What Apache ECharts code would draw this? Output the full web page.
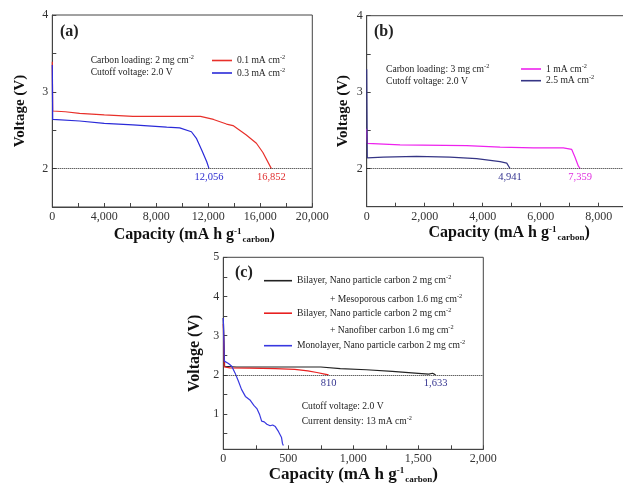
<!DOCTYPE html>
<html>
<head>
<meta charset="utf-8">
<script src="https://cdn.jsdelivr.net/npm/echarts@6/dist/echarts.min.js"></script>
<style>
html, body { margin: 0; padding: 0; background: #fff; }
#chart { width: 623px; height: 489px; }
</style>
</head>
<body>
<div id="chart"></div>
<script>
// (a) carbon loading 2 mg cm-2
const capA1 = [0, 30, 1000, 2100, 4000, 6200, 9300, 11400, 12400, 13400, 13900, 14900, 15700, 16200, 16852]
const voltA1 = [3.39, 2.75, 2.74, 2.72, 2.70, 2.68, 2.68, 2.68, 2.64, 2.58, 2.56, 2.44, 2.33, 2.21, 2.00]
const capA2 = [0, 30, 2100, 4000, 6200, 8800, 9800, 10700, 11100, 11500, 11880, 12056]
const voltA2 = [3.35, 2.64, 2.62, 2.59, 2.57, 2.54, 2.53, 2.48, 2.39, 2.24, 2.09, 2.00]

// (b) carbon loading 3 mg cm-2
const capB1 = [0, 20, 1150, 3450, 4600, 5750, 6780, 7070, 7180, 7300, 7359]
const voltB1 = [2.52, 2.33, 2.31, 2.30, 2.28, 2.27, 2.27, 2.25, 2.15, 2.03, 2.00]
const capB2 = [0, 20, 575, 1720, 2870, 3790, 4600, 4830, 4941]
const voltB2 = [3.30, 2.14, 2.15, 2.16, 2.15, 2.13, 2.09, 2.07, 2.00]

// (c) 13 mA cm-2
const capC1 = [0, 10, 100, 250, 500, 750, 900, 1100, 1300, 1500, 1580, 1610, 1633]
const voltC1 = [3.45, 2.22, 2.20, 2.20, 2.20, 2.20, 2.16, 2.13, 2.09, 2.04, 2.02, 2.04, 2.00]
const capC2 = [0, 8, 50, 200, 400, 550, 650, 720, 780, 810]
const voltC2 = [3.30, 2.20, 2.18, 2.17, 2.16, 2.14, 2.10, 2.06, 2.02, 2.00]
const capC3 = [0, 8, 20, 40, 65, 90, 115, 140, 170, 205, 235, 260, 280, 295, 305, 315, 335, 360, 380, 400, 415, 425, 440, 448, 455, 462]
const voltC3 = [3.45, 2.35, 2.30, 2.29, 2.22, 2.05, 1.85, 1.63, 1.45, 1.36, 1.22, 1.13, 0.98, 0.82, 0.86, 0.80, 0.74, 0.70, 0.72, 0.68, 0.66, 0.55, 0.57, 0.40, 0.25, 0.20]

const endLabels = ['16,852', '12,056', '7,359', '4,941', '1,633', '810']
const yTicksC = [0.5, 1, 1.5, 2, 2.5, 3, 3.5, 4, 4.5, 5]
const yLabelsC = [1, 2, 3, 4, 5]

const font = 'Liberation Serif'
const small = 9.6
const zip = (xs, ys) => xs.map((x, i) => [x, ys[i]])
const comma = (v) => String(v).replace(/\B(?=(\d{3})+(?!\d))/g, ',')

const legendText = {
  'a1': '{n|0.1 mA cm}{s|-2}',
  'a2': '{n|0.3 mA cm}{s|-2}',
  'b1': '{n|1 mA cm}{s|-2}',
  'b2': '{n|2.5 mA cm}{s|-2}',
  'c1': '{n|Bilayer, Nano particle carbon 2 mg cm}{s|-2}',
  'c2': '{n|Bilayer, Nano particle carbon 2 mg cm}{s|-2}',
  'c3': '{n|Monolayer, Nano particle carbon 2 mg cm}{s|-2}'
}
const smallRich = {
  n: { fontFamily: font, fontSize: small, lineHeight: 12, color: '#222' },
  s: { fontFamily: font, fontSize: 6.3, lineHeight: 7, verticalAlign: 'top', color: '#222' }
}

const titleRich = (size) => ({
  b: { fontFamily: font, fontWeight: 'bold', fontSize: size, lineHeight: size + 2, verticalAlign: 'top', color: '#111' },
  p: { fontFamily: font, fontWeight: 'bold', fontSize: 9, lineHeight: 10, verticalAlign: 'top', color: '#111' },
  q: { fontFamily: font, fontWeight: 'bold', fontSize: 9, lineHeight: 10, verticalAlign: 'top', padding: [Math.round(size * 0.5), 0, 0, 1], color: '#111' }
})

const xAx = (gi, max, interval, every, size, padLeft, gap) => ({
  gridIndex: gi,
  type: 'value',
  min: 0,
  max: max,
  interval: interval,
  name: '{b|Capacity (mA h g}{p|-1}{q|carbon}{b|)}',
  nameLocation: 'middle',
  nameGap: gap,
  nameTextStyle: { padding: [0, 0, 0, padLeft], rich: titleRich(size) },
  axisLine: { lineStyle: { color: '#444', width: 1 } },
  axisTick: { inside: true, length: 4, lineStyle: { color: '#444' } },
  axisLabel: {
    margin: 4, fontFamily: font, fontSize: 12, color: '#333',
    formatter: (v) => (v % every === 0 ? comma(v) : '')
  },
  splitLine: { show: false }
})

const yAx = (gi, min, max, size, gap, extra) => Object.assign({
  gridIndex: gi,
  type: 'value',
  min: min,
  max: max,
  name: '{b|Voltage (V)}',
  nameLocation: 'middle',
  nameGap: gap,
  nameTextStyle: { rich: { b: { fontFamily: font, fontWeight: 'bold', fontSize: size, lineHeight: size + 3, color: '#111' } } },
  axisLine: { lineStyle: { color: '#444', width: 1 } },
  axisTick: { inside: true, length: 4, lineStyle: { color: '#444' } },
  axisLabel: {
    margin: 4, fontFamily: font, fontSize: 12, color: '#333',
    formatter: (v) => (Number.isInteger(v) ? String(v) : '')
  },
  splitLine: { show: false }
}, extra)

const cutoff = {
  silent: true,
  symbol: 'none',
  label: { show: false },
  lineStyle: { type: 'dotted', color: '#222', width: 1 },
  data: [{ yAxis: 2 }]
}

const endMark = (x, y, text, color) => ({
  symbol: 'circle',
  symbolSize: 2,
  itemStyle: { color: 'rgba(0,0,0,0)' },
  label: { show: true, position: 'bottom', distance: 2, formatter: text, color: color, fontFamily: font, fontSize: 10.5 },
  data: [{ coord: [x, y] }]
})

const line = (name, gi, caps, volts, color, label, labelColor, withCutoff) => ({
  name: name,
  type: 'line',
  xAxisIndex: gi,
  yAxisIndex: gi,
  data: zip(caps, volts),
  symbol: 'none',
  color: color,
  lineStyle: { width: 1.2, color: color },
  markLine: withCutoff ? cutoff : undefined,
  markPoint: label ? endMark(caps[caps.length - 1], volts[volts.length - 1], label, labelColor) : undefined
})

const legend = (names, left, top, iw, gap) => ({
  data: names,
  orient: 'vertical',
  left: left,
  top: top,
  padding: 0,
  icon: 'rect',
  itemWidth: iw,
  itemHeight: 1.6,
  itemGap: gap,
  selectedMode: false,
  formatter: (n) => legendText[n],
  textStyle: { rich: smallRich }
})

const note = (x, y, text, bold) => ({
  type: 'text',
  x: x,
  y: y,
  silent: true,
  style: {
    text: text,
    fill: '#222',
    verticalAlign: 'middle',
    fontFamily: font,
    fontSize: bold ? 16 : small,
    fontWeight: bold ? 'bold' : 'normal',
    rich: {
      n: { fontFamily: font, fontSize: small, lineHeight: 12 },
      s: { fontFamily: font, fontSize: 6.3, lineHeight: 7, verticalAlign: 'top' }
    }
  }
})

const chart = echarts.init(document.getElementById('chart'))
chart.setOption({
  animation: false,
  backgroundColor: '#fff',
  grid: [
    { left: 52.3, top: 15, width: 260, height: 192, show: true, borderColor: '#444', borderWidth: 1, outerBoundsMode: 'none' },
    { left: 366.7, top: 15.7, width: 261, height: 191, show: true, borderColor: '#444', borderWidth: 1, outerBoundsMode: 'none' },
    { left: 223.3, top: 257.3, width: 260, height: 192, show: true, borderColor: '#444', borderWidth: 1, outerBoundsMode: 'none' }
  ],
  xAxis: [
    xAx(0, 20000, 2000, 4000, 16, 24, 20),
    xAx(1, 9000, 1000, 2000, 16, 24, 18),
    xAx(2, 2000, 250, 500, 17, 0, 16)
  ],
  yAxis: [
    yAx(0, 1.5, 4, 15, 23, { interval: 0.5 }),
    yAx(1, 1.5, 4, 15, 15, { interval: 0.5 }),
    yAx(2, 0.1, 5, 16, 19, {
      axisTick: { inside: true, length: 4, lineStyle: { color: '#444' }, customValues: yTicksC },
      axisLabel: { margin: 4, fontFamily: font, fontSize: 12, color: '#333', customValues: yLabelsC }
    })
  ],
  legend: [
    legend(['a1', 'a2'], 212, 54.5, 20, 1.5),
    legend(['b1', 'b2'], 521, 63, 20, 0.7),
    legend(['c1', 'c2', 'c3'], 264, 274.7, 28, 21.5)
  ],
  graphic: [
    note(60, 32, '(a)', true),
    note(90.7, 60.7, '{n|Carbon loading: 2 mg cm}{s|-2}'),
    note(90.7, 72.3, '{n|Cutoff voltage: 2.0 V}'),
    note(374, 32.3, '(b)', true),
    note(386, 69, '{n|Carbon loading: 3 mg cm}{s|-2}'),
    note(386, 81, '{n|Cutoff voltage: 2.0 V}'),
    note(235, 273.3, '(c)', true),
    note(330, 299, '{n|+ Mesoporous carbon 1.6 mg cm}{s|-2}'),
    note(330, 330, '{n|+ Nanofiber carbon 1.6 mg cm}{s|-2}'),
    note(301.7, 406.7, '{n|Cutoff voltage: 2.0 V}'),
    note(301.7, 421.7, '{n|Current density: 13 mA cm}{s|-2}')
  ],
  series: [
    line('a1', 0, capA1, voltA1, '#e8302a', endLabels[0], '#e03030', true),
    line('a2', 0, capA2, voltA2, '#2a2ad8', endLabels[1], '#2a2ad0', false),
    line('b1', 1, capB1, voltB1, '#ee22ee', endLabels[2], '#e030e0', true),
    line('b2', 1, capB2, voltB2, '#353585', endLabels[3], '#353590', false),
    line('c1', 2, capC1, voltC1, '#222222', endLabels[4], '#353590', true),
    line('c2', 2, capC2, voltC2, '#e82020', endLabels[5], '#353590', false),
    line('c3', 2, capC3, voltC3, '#3838e0', null, null, false)
  ]
})
</script>
</body>
</html>
